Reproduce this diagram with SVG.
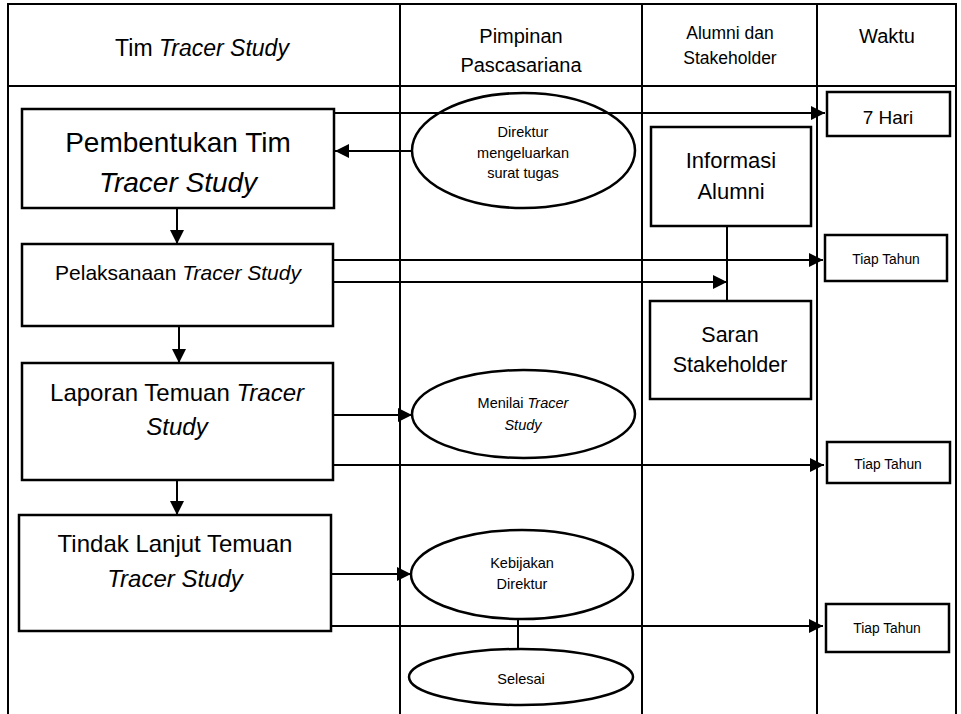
<svg xmlns="http://www.w3.org/2000/svg" width="961" height="714" viewBox="0 0 961 714">
<defs>
<style>
text{font-family:"Liberation Sans",Arial,sans-serif;fill:#000;text-anchor:middle}
.it{font-style:italic}
.frame{stroke:#000;stroke-width:2;fill:none}
.box{stroke:#000;stroke-width:2.5;fill:#fff}
.ell{stroke:#000;stroke-width:2.5;fill:#fff}
.con{stroke:#000;stroke-width:2;fill:none}
.arr{marker-end:url(#ah)}
</style>
<marker id="ah" markerUnits="userSpaceOnUse" markerWidth="14" markerHeight="14" refX="14" refY="7" orient="auto">
<path d="M0,0 L14,7 L0,14 Z" fill="#000"/>
</marker>
</defs>
<rect width="961" height="714" fill="#fff"/>
<g id="lanes">
<line class="frame" x1="7" y1="4" x2="957" y2="4" stroke-width="3"/>
<line class="frame" x1="7" y1="86" x2="957" y2="86"/>
<line class="frame" x1="8" y1="3" x2="8" y2="714"/>
<line class="frame" x1="400" y1="3" x2="400" y2="714"/>
<line class="frame" x1="642" y1="3" x2="642" y2="714"/>
<line class="frame" x1="817" y1="3" x2="817" y2="714"/>
<line class="frame" x1="956" y1="3" x2="956" y2="714"/>
<text x="202" y="56" font-size="23">Tim <tspan class="it">Tracer Study</tspan></text>
<text x="521" y="43" font-size="20">Pimpinan</text>
<text x="521" y="72" font-size="20">Pascasariana</text>
<text x="730" y="39" font-size="17.5">Alumni dan</text>
<text x="730" y="64" font-size="17.5">Stakeholder</text>
<text x="887" y="43" font-size="20">Waktu</text>
</g>
<g id="connectors">
<line class="con arr" x1="334" y1="113" x2="825" y2="113"/>
<line class="con arr" x1="412" y1="151" x2="335" y2="151"/>
<line class="con arr" x1="177" y1="208" x2="177" y2="244"/>
<line class="con arr" x1="333" y1="260" x2="823" y2="260"/>
<line class="con arr" x1="333" y1="282" x2="727" y2="282"/>
<line class="con" x1="727" y1="226" x2="727" y2="301"/>
<line class="con arr" x1="179" y1="326" x2="179" y2="363"/>
<line class="con arr" x1="333" y1="415" x2="412" y2="415"/>
<line class="con arr" x1="333" y1="465" x2="824" y2="465"/>
<line class="con arr" x1="177" y1="480" x2="177" y2="515"/>
<line class="con arr" x1="331" y1="574" x2="411" y2="574"/>
<line class="con arr" x1="331" y1="626" x2="823" y2="626"/>
<line class="con" x1="518" y1="619" x2="518" y2="649"/>
</g>
<g id="pembentukan">
<rect class="box" x="22" y="109" width="312" height="99"/>
<text x="178" y="152" font-size="28">Pembentukan Tim</text>
<text x="178" y="192" font-size="28" class="it">Tracer Study</text>
</g>
<g id="pelaksanaan">
<rect class="box" x="22" y="244" width="311" height="82"/>
<text x="178" y="280" font-size="21">Pelaksanaan <tspan class="it">Tracer Study</tspan></text>
</g>
<g id="laporan">
<rect class="box" x="22" y="363" width="311" height="117"/>
<text x="177" y="401" font-size="24">Laporan Temuan <tspan class="it">Tracer</tspan></text>
<text x="177" y="435" font-size="24" class="it">Study</text>
</g>
<g id="tindaklanjut">
<rect class="box" x="19" y="515" width="312" height="116"/>
<text x="175" y="552" font-size="24">Tindak Lanjut Temuan</text>
<text x="175" y="587" font-size="24" class="it">Tracer Study</text>
</g>
<g id="direktur">
<ellipse class="ell" cx="523.5" cy="150.5" rx="111.5" ry="57.5" fill="none" style="fill:none"/>
<text x="523" y="137" font-size="14.5">Direktur</text>
<text x="523" y="158" font-size="14.5">mengeluarkan</text>
<text x="523" y="178" font-size="14.5">surat tugas</text>
</g>
<g id="menilai">
<ellipse class="ell" cx="523.5" cy="414" rx="111.5" ry="44"/>
<text x="523" y="408" font-size="14.5">Menilai <tspan class="it">Tracer</tspan></text>
<text x="523" y="430" font-size="14.5" class="it">Study</text>
</g>
<g id="kebijakan">
<ellipse class="ell" cx="522" cy="574.5" rx="111" ry="44.5"/>
<text x="522" y="568" font-size="14.5">Kebijakan</text>
<text x="522" y="589" font-size="14.5">Direktur</text>
</g>
<g id="selesai">
<ellipse class="ell" cx="521" cy="677" rx="112" ry="28"/>
<text x="521" y="684" font-size="14.5">Selesai</text>
</g>
<g id="informasi">
<rect class="box" x="651" y="127" width="160" height="99"/>
<text x="731" y="168" font-size="22">Informasi</text>
<text x="731" y="199" font-size="22">Alumni</text>
</g>
<g id="saran">
<rect class="box" x="650" y="301" width="161" height="98"/>
<text x="730" y="342" font-size="21.5">Saran</text>
<text x="730" y="372" font-size="21.5">Stakeholder</text>
</g>
<g id="tujuhhari">
<rect class="box" x="827" y="92" width="123" height="44"/>
<text x="888" y="124" font-size="19">7 Hari</text>
</g>
<g id="tiaptahun1">
<rect class="box" x="825" y="235" width="122" height="46"/>
<text x="886" y="264" font-size="13.8">Tiap Tahun</text>
</g>
<g id="tiaptahun2">
<rect class="box" x="827" y="442" width="123" height="41"/>
<text x="888" y="469" font-size="13.8">Tiap Tahun</text>
</g>
<g id="tiaptahun3">
<rect class="box" x="826" y="604" width="123" height="48"/>
<text x="887" y="633" font-size="13.8">Tiap Tahun</text>
</g>
</svg>
